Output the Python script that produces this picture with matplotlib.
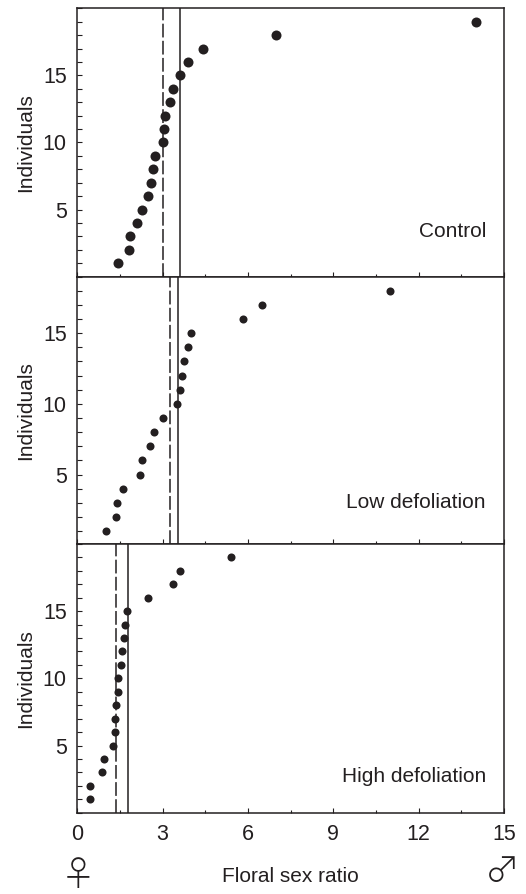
import matplotlib
matplotlib.use('Agg')
import matplotlib.pyplot as plt
from matplotlib.ticker import MultipleLocator, NullFormatter

plt.rcParams['font.family'] = ['Liberation Sans', 'DejaVu Sans']

# Floral sex ratio of each individual, sorted
control_x = [1.43, 1.82, 1.86, 2.10, 2.29, 2.50, 2.58, 2.66, 2.74, 3.00,
             3.04, 3.07, 3.25, 3.36, 3.60, 3.89, 4.43, 7.00, 14.00]
low_x = [1.02, 1.36, 1.39, 1.62, 2.20, 2.26, 2.57, 2.71, 3.00, 3.50,
         3.60, 3.67, 3.74, 3.88, 4.00, 5.82, 6.50, 11.00]
high_x = [0.43, 0.43, 0.86, 0.93, 1.24, 1.31, 1.32, 1.37, 1.42, 1.43,
          1.55, 1.56, 1.64, 1.66, 1.76, 2.50, 3.38, 3.60, 5.40]

# dashed / solid reference lines
control_lines = [3.0, 3.6]
low_lines = [3.25, 3.55]
high_lines = [1.36, 1.79]

panel_names = ['Control', 'Low defoliation', 'High defoliation']
xtick_labels = [0, 3, 6, 9, 12, 15]
ytick_labels = [5, 10, 15]

INK = '#231f20'
W, H = 526, 894

fig = plt.figure(figsize=(W / 100, H / 100), dpi=100)

# pixel boxes of the three panels: top, bottom, ymin, ymax, marker size, name y
boxes = [(8.3, 276.7, 0, 20, 7.2, 232),
         (276.7, 543.5, 0.12, 19, 5.8, 502.5),
         (544, 812.7, 0, 20, 5.8, 776.5)]
left, right = 77.3, 504
series = [control_x, low_x, high_x]
lines = [control_lines, low_lines, high_lines]

for i, (top, bottom, ymin, ymax, ms, name_y) in enumerate(boxes):
    ax = fig.add_axes([left / W, 1 - bottom / H, (right - left) / W, (bottom - top) / H])
    individuals = list(range(1, len(series[i]) + 1))
    dashed, solid = lines[i]
    ax.axvline(dashed, color=INK, lw=1.1, dashes=(9, 2.2))
    ax.axvline(solid, color=INK, lw=1.1)
    ax.plot(series[i], individuals, 'o', color=INK, ms=ms, mew=0, clip_on=False, zorder=3)

    ax.set_xticks(xtick_labels)
    ax.xaxis.set_minor_locator(MultipleLocator(1.5))
    ax.set_yticks(ytick_labels)
    ax.yaxis.set_minor_locator(MultipleLocator(1))
    ax.set_xlim(0, 15)
    ax.set_ylim(ymin, ymax)
    ax.tick_params(axis='x', which='major', direction='in', length=3.6, width=0.8, color=INK,
                   labelsize=15.5, labelcolor=INK, pad=8)
    ax.tick_params(axis='x', which='minor', direction='in', length=2.4, width=0.8, color=INK)
    ax.tick_params(axis='y', which='both', direction='in', length=3.8, width=0.8, color=INK,
                   labelsize=15.5, labelcolor=INK, pad=7.6)
    if i < 2:
        ax.xaxis.set_major_formatter(NullFormatter())
    for s in ax.spines.values():
        s.set_linewidth(1.1)
        s.set_color(INK)

    ax.set_ylabel('Individuals', fontsize=15, color=INK)
    ax.yaxis.set_label_coords((35 - left) / (right - left), 0.5)
    fig.text(486 / W, 1 - name_y / H, panel_names[i], ha='right', va='center',
             fontsize=15, color=INK)

fig.text(290.5 / W, 1 - 877 / H, 'Floral sex ratio', ha='center', va='center', fontsize=15, color=INK)
fig.text(78 / W, 1 - 876 / H, '♀', ha='center', va='center', fontsize=25, color=INK,
         fontweight='light', family=['Noto Sans CJK JP', 'DejaVu Sans'])
fig.text(502 / W, 1 - 872 / H, '♂', ha='center', va='center', fontsize=25, color=INK,
         fontweight='light', family=['Noto Sans CJK JP', 'DejaVu Sans'])

fig.savefig('out.png', dpi=100)
